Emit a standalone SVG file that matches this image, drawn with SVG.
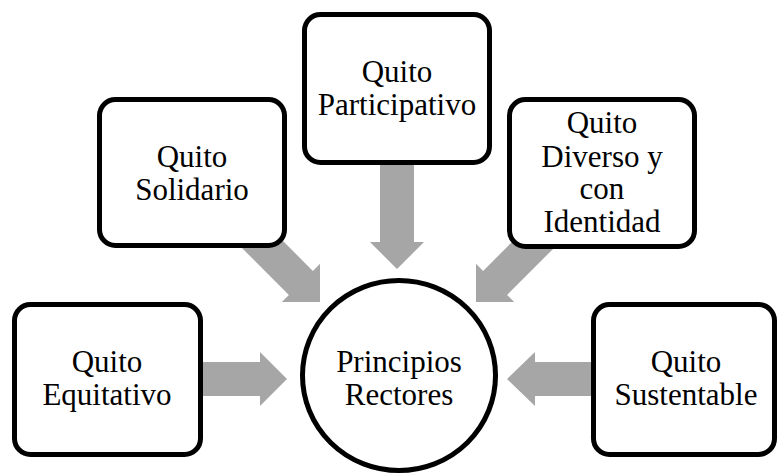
<svg xmlns="http://www.w3.org/2000/svg" width="777" height="473" viewBox="0 0 777 473">
<style>
.box{fill:#fff;stroke:#000;stroke-width:5}
.arr{fill:#A6A6A6;stroke:none}
text{font-family:"Liberation Serif","Times New Roman",serif;font-size:31px;fill:#000;text-anchor:middle}
</style>
<rect width="777" height="473" fill="#fff"/>
<g id="connectors">
<polygon class="arr" points="195,362 260,362 260,352 287,379 260,406 260,396 195,396"/>
<polygon class="arr" points="600,362 535,362 535,352 507,379 535,406 535,396 600,396"/>
<polygon class="arr" points="380,155 414,155 414,242 424,242 397,269 370,242 380,242"/>
<polygon class="arr" points="242.9,200.9 312.9,270.9 320,263.8 320,302 281.8,302 288.9,294.9 218.9,224.9"/>
<polygon class="arr" points="553.1,200.9 483.1,270.9 476,263.8 476,302 514.2,302 507.1,294.9 577.1,224.9"/>
</g>
<g id="solidario">
<rect class="box" x="99.5" y="99.5" width="185" height="146" rx="16"/>
<text x="192" y="167">Quito</text>
<text x="192" y="200">Solidario</text>
</g>
<g id="participativo">
<rect class="box" x="304.5" y="14.5" width="185" height="148" rx="16"/>
<text x="397" y="82">Quito</text>
<text x="397" y="115">Participativo</text>
</g>
<g id="diverso">
<rect class="box" x="509.5" y="99.5" width="185" height="147" rx="16"/>
<text x="602" y="133">Quito</text>
<text x="602" y="167">Diverso y</text>
<text x="602" y="199">con</text>
<text x="602" y="232">Identidad</text>
</g>
<g id="equitativo">
<rect class="box" x="14.5" y="304.5" width="186" height="150" rx="16"/>
<text x="107" y="372">Quito</text>
<text x="107" y="405">Equitativo</text>
</g>
<g id="sustentable">
<rect class="box" x="593.5" y="304.5" width="181" height="150" rx="16"/>
<text x="686" y="372">Quito</text>
<text x="686" y="405">Sustentable</text>
</g>
<g id="principios">
<ellipse class="box" cx="399" cy="375.5" rx="96.5" ry="95"/>
<text x="399" y="372">Principios</text>
<text x="399" y="405">Rectores</text>
</g>
</svg>
